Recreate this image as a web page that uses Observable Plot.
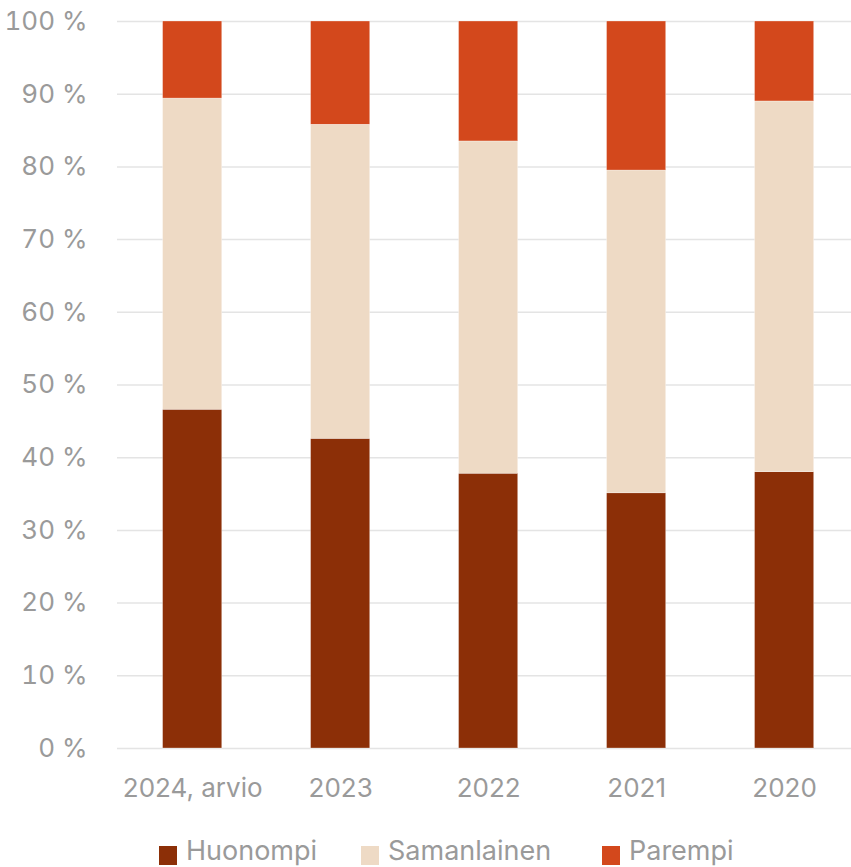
<!DOCTYPE html>
<html>
<head>
<meta charset="utf-8">
<script src="https://cdn.jsdelivr.net/npm/d3@7"></script>
<script src="https://cdn.jsdelivr.net/npm/@observablehq/plot@0.6"></script>
<style>
  html, body { margin: 0; padding: 0; background: #fff; }
  body { width: 851px; height: 867px; overflow: hidden; font-family: Inter, "Open Sans", sans-serif; position: relative; }
  #legend { position: absolute; top: 834px; left: 0; width: 851px; height: 33px; font-size: 27px; color: #9a9a9a; }
  .item { position: absolute; top: 0; display: flex; align-items: center; white-space: nowrap; }
  .sw { width: 18px; height: 19px; margin-right: 9px; margin-top: 10px; }
</style>
</head>
<body>
<div id="chart"></div>
<div id="legend"></div>
<script>
const categories = ["2024, arvio", "2023", "2022", "2021", "2020"];
const huonompi = [46.6, 42.6, 37.8, 35.1, 38.0];
const samanlainen = [42.8, 43.2, 45.7, 44.4, 51.0];
const parempi = [10.6, 14.2, 16.5, 20.5, 11.0];
const seriesNames = ["Huonompi", "Samanlainen", "Parempi"];
const seriesColors = ["#8c2f07", "#eedac5", "#d3481c"];
const yTicks = [0, 10, 20, 30, 40, 50, 60, 70, 80, 90, 100];

const seriesValues = [huonompi, samanlainen, parempi];
const rows = [];
categories.forEach((c, i) => {
  seriesNames.forEach((s, j) => rows.push({cat: c, series: s, value: seriesValues[j][i]}));
});

const chart = Plot.plot({
  width: 851,
  height: 820,
  marginLeft: 117,
  marginRight: 0,
  marginTop: 21,
  marginBottom: 72,
  style: {fontFamily: "Inter, 'Open Sans', sans-serif", fontSize: "26px", color: "#9a9a9a", background: "#fff"},
  x: {domain: categories, paddingInner: 0.6, paddingOuter: 0.28, align: 0.55, round: false, label: null},
  y: {domain: [0, 100], label: null},
  color: {domain: seriesNames, range: seriesColors},
  marks: [
    Plot.gridY(yTicks, {stroke: "#e4e4e4", strokeOpacity: 1, strokeWidth: 1.5}),
    Plot.barY(rows, Plot.stackY({x: "cat", y: "value", fill: "series", order: seriesNames, stroke: "#fff", strokeWidth: 0.5, strokeOpacity: 0.6})),
    Plot.axisY(yTicks, {tickSize: 0, tickPadding: 30, tickFormat: d => d + " %", fill: "#9a9a9a", fontSize: 26}),
    Plot.axisX({tickSize: 0, tickPadding: 30, fill: "#9a9a9a", fontSize: 26})
  ]
});
document.getElementById("chart").appendChild(chart);

const legend = document.getElementById("legend");
const legendLeft = [159, 361, 602];
seriesNames.forEach((s, i) => {
  const it = document.createElement("div");
  it.className = "item";
  it.style.left = legendLeft[i] + "px";
  const sw = document.createElement("span");
  sw.className = "sw";
  sw.style.background = seriesColors[i];
  const t = document.createElement("span");
  t.textContent = s;
  it.appendChild(sw); it.appendChild(t);
  legend.appendChild(it);
});
</script>
</body>
</html>
